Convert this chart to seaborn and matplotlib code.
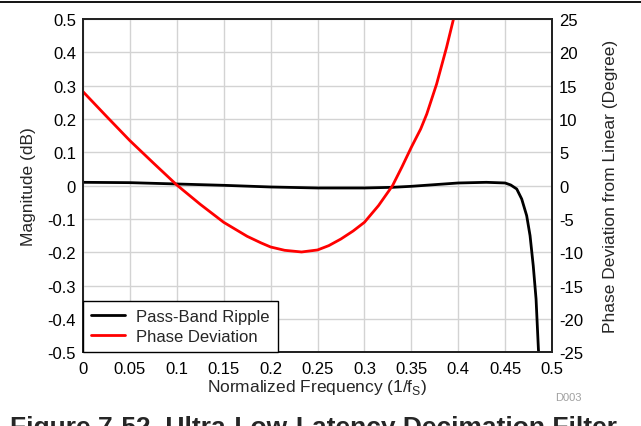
import matplotlib
matplotlib.use("Agg")
import matplotlib.pyplot as plt
import seaborn as sns
import pandas as pd
from matplotlib.lines import Line2D

# ---- data ----
ripple_freq = [0.0, 0.05, 0.1, 0.15, 0.2, 0.25, 0.3, 0.33, 0.35, 0.38, 0.4, 0.43,
               0.45, 0.456, 0.4624, 0.4677, 0.473, 0.4766, 0.48, 0.483, 0.4855, 0.487]
ripple_db = [0.010, 0.009, 0.005, 0.001, -0.004, -0.007, -0.007, -0.005, -0.002, 0.004,
             0.008, 0.010, 0.008, 0.002, -0.010, -0.040, -0.090, -0.150, -0.240, -0.340,
             -0.490, -0.560]

phase_freq = [0.0, 0.025, 0.05, 0.075, 0.1, 0.125, 0.15, 0.175, 0.19, 0.2, 0.215, 0.233,
              0.25, 0.262, 0.275, 0.288, 0.3, 0.315, 0.33, 0.34, 0.35, 0.36, 0.3665, 0.377,
              0.3876, 0.395, 0.40]
phase_deg = [14.1, 10.4, 6.75, 3.4, 0.1, -2.8, -5.5, -7.6, -8.6, -9.2, -9.7, -9.95,
             -9.65, -9.0, -8.0, -6.8, -5.5, -3.0, 0.0, 2.8, 5.75, 8.5, 10.75, 15.25,
             20.75, 25.0, 28.0]

x_ticks = [0, 0.05, 0.1, 0.15, 0.2, 0.25, 0.3, 0.35, 0.4, 0.45, 0.5]
x_tick_labels = ["0", "0.05", "0.1", "0.15", "0.2", "0.25", "0.3", "0.35", "0.4", "0.45", "0.5"]
left_ticks = [-0.5, -0.4, -0.3, -0.2, -0.1, 0, 0.1, 0.2, 0.3, 0.4, 0.5]
left_tick_labels = ["-0.5", "-0.4", "-0.3", "-0.2", "-0.1", "0", "0.1", "0.2", "0.3", "0.4", "0.5"]
right_ticks = [-25, -20, -15, -10, -5, 0, 5, 10, 15, 20, 25]
right_tick_labels = ["-25", "-20", "-15", "-10", "-5", "0", "5", "10", "15", "20", "25"]

series_names = ["Pass-Band Ripple", "Phase Deviation"]
series_colors = ["#000000", "#ff0000"]

# ---- figure ----
sns.set_style("white")
plt.rcParams['font.family'] = ['Liberation Sans', 'DejaVu Sans']

W, H = 641, 427
fig = plt.figure(figsize=(W / 100, H / 100), dpi=100)
ax1 = fig.add_axes([83 / W, 1 - 353.3 / H, (552 - 83) / W, (353.3 - 20) / H])
ax2 = ax1.twinx()

df_r = pd.DataFrame({"f": ripple_freq, "v": ripple_db})
df_p = pd.DataFrame({"f": phase_freq, "v": phase_deg})

sns.lineplot(data=df_r, x="f", y="v", ax=ax1, color=series_colors[0], lw=2.0,
             sort=False, estimator=None, legend=False)
sns.lineplot(data=df_p, x="f", y="v", ax=ax2, color=series_colors[1], lw=2.0,
             sort=False, estimator=None, legend=False)

ax1.set_xlim(0, 0.5)
ax1.set_ylim(-0.5, 0.5)
ax2.set_ylim(-25, 25)

ax1.set_xticks(x_ticks)
ax1.set_xticklabels(x_tick_labels)
ax1.set_yticks(left_ticks)
ax1.set_yticklabels(left_tick_labels)
ax2.set_yticks(right_ticks)
ax2.set_yticklabels(right_tick_labels)

ax1.grid(True, color="#d3d3d3", lw=1.0)
ax1.set_axisbelow(True)
ax2.grid(False)

for ax in (ax1, ax2):
    ax.tick_params(axis="both", length=0, labelsize=12, colors="black")
    ax.tick_params(axis="y", pad=5)
    ax.tick_params(axis="x", pad=6)
    for s in ax.spines.values():
        s.set_color("#222222")
        s.set_linewidth(1.3)

ax1.set_xlabel("Normalized Frequency (1/f$_\\mathregular{S}$)", fontsize=12.5, labelpad=1)
ax1.set_ylabel("Magnitude (dB)", fontsize=12.5, labelpad=8)
ax2.set_ylabel("Phase Deviation from Linear (Degree)", fontsize=12.5, labelpad=14)

handles = [Line2D([], [], color=c, lw=2.0) for c in series_colors]
leg = ax2.legend(handles, series_names, loc="lower left", bbox_to_anchor=(0, 0),
                 fontsize=12, frameon=True, fancybox=False, framealpha=1,
                 edgecolor="black", borderaxespad=0, handlelength=2.0,
                 handletextpad=0.7, borderpad=0.5, labelspacing=0.3)
leg.get_frame().set_linewidth(1.0)

# document decorations
fig.add_artist(Line2D([0, 1], [1 - 3 / H, 1 - 3 / H], color="black", lw=1.3))
fig.text(568 / W, 1 - 398 / H, "D003", fontsize=8, color="#a0a0a0", ha="center", va="center")
fig.text(10 / W, 1 - 435 / H, "Figure 7-52. Ultra-Low-Latency Decimation Filter",
         fontsize=19, fontweight="bold", ha="left", va="baseline")

fig.savefig("out.png", dpi=100)
